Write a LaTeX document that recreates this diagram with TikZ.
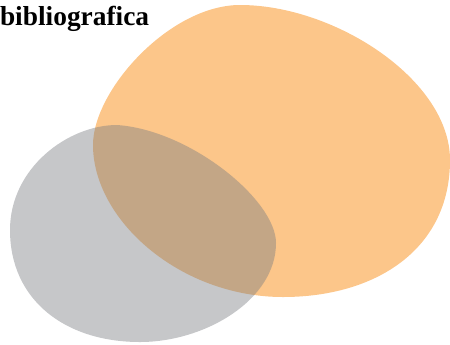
\documentclass[tikz,border=0pt]{standalone}
\usepackage{fontspec}
\setmainfont{Liberation Serif}
\usetikzlibrary{positioning}
\definecolor{blob_orange}{RGB}{252,198,138}
\definecolor{blob_grey}{RGB}{122,125,129}

\begin{document}
\begin{tikzpicture}[
    x=1bp, y=-1bp,
    orange_blob/.style={fill=blob_orange, draw=none},
    grey_blob/.style={fill=blob_grey, fill opacity=0.43, draw=none},
    every node/.style={inner sep=0pt, outer sep=0pt}
]
\useasboundingbox (0,0) rectangle (450,344);
% orange shape
\fill[orange_blob] (240,5) .. controls (335,5) and (450,80) .. (450,160)
    .. controls (450,250) and (375,297) .. (283,297)
    .. controls (180,297) and (93,220) .. (93,145)
    .. controls (93,90) and (170,5) .. (240,5) -- cycle;
% grey shape
\fill[grey_blob] (117,125) .. controls (190,130) and (276,200) .. (276,243)
    .. controls (276,300) and (205,342) .. (140,342)
    .. controls (65,342) and (10,300) .. (10,230)
    .. controls (10,168) and (68,125) .. (117,125) -- cycle;
\node (title_text) [anchor=base west, font=\fontsize{27.5}{32}\selectfont\bfseries] at (0,25) {bibliografica};
\end{tikzpicture}
\end{document}
